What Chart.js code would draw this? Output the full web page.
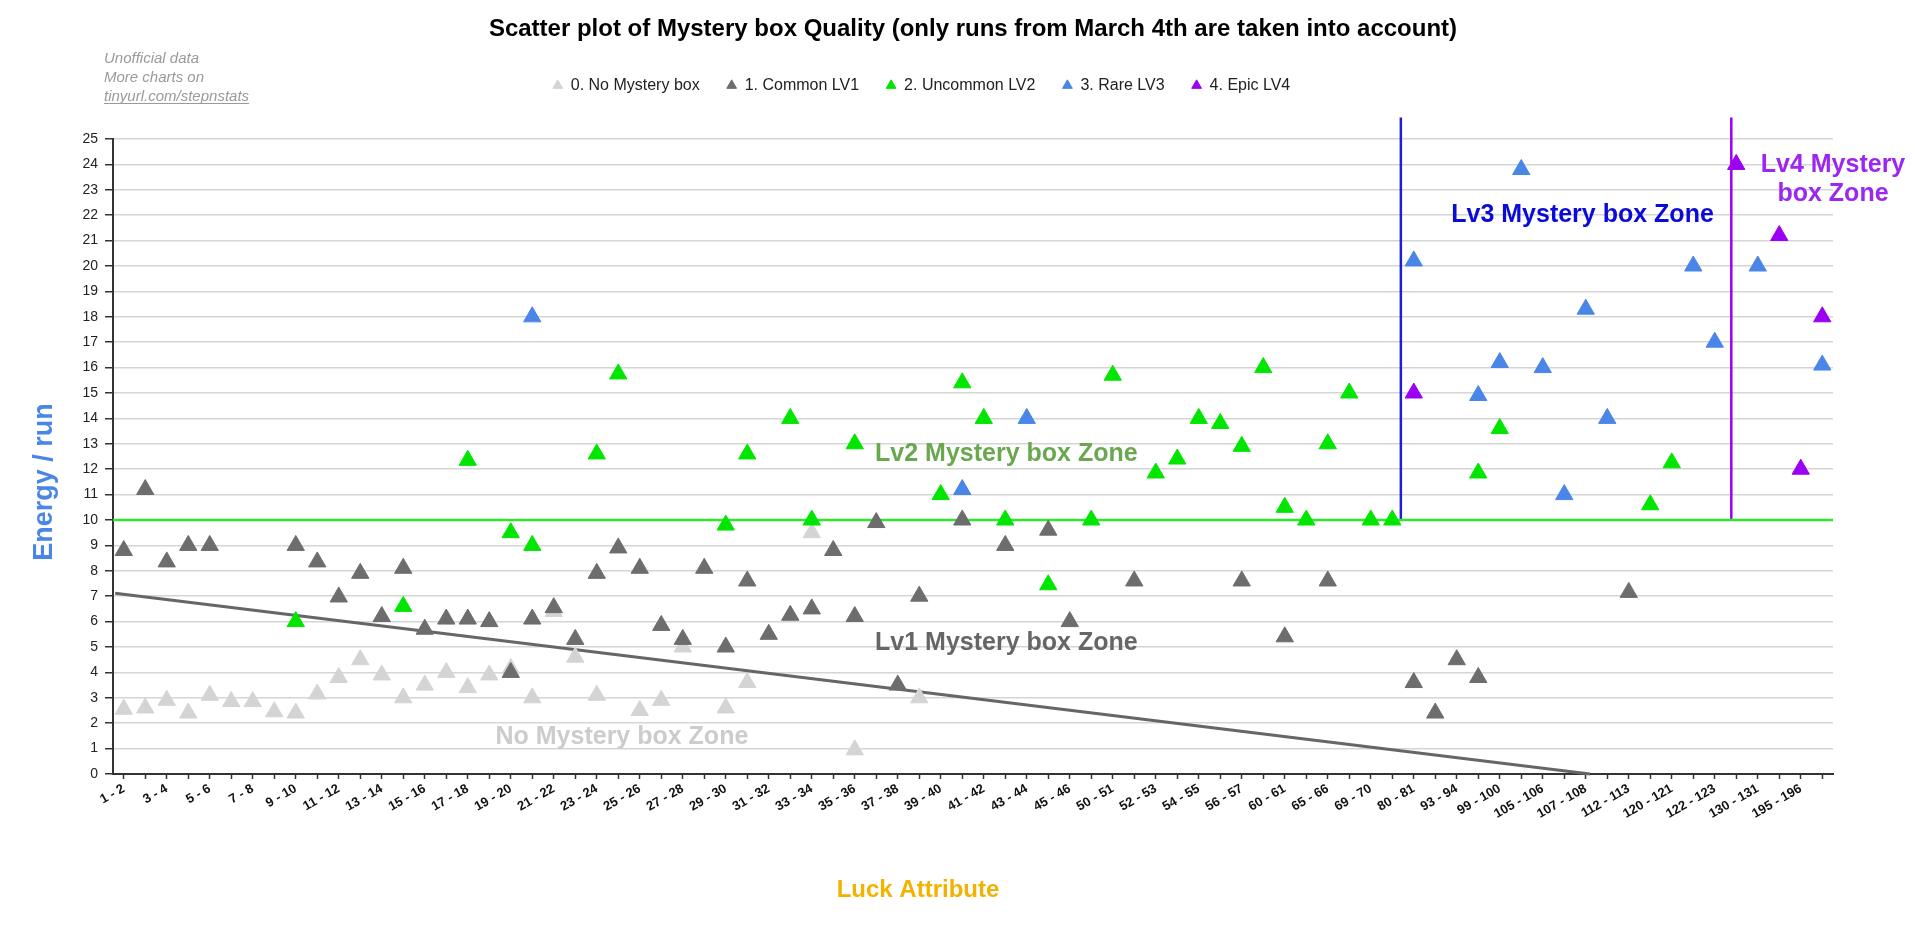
<!DOCTYPE html>
<html>
<head>
<meta charset="utf-8">
<title>Mystery box quality</title>
<script src="https://cdn.jsdelivr.net/npm/chart.js@4.4.1/dist/chart.umd.min.js"></script>
<style>
  html, body { margin: 0; padding: 0; background: #fff; }
  canvas { display: block; }
</style>
</head>
<body>
<canvas id="chart" width="1915" height="938"></canvas>
<script>
const categories = [
    '1 - 2', '2 - 3', '3 - 4', '4 - 5', '5 - 6', '6 - 7', '7 - 8', '8 - 9', '9 - 10', '10 - 11',
    '11 - 12', '12 - 13', '13 - 14', '14 - 15', '15 - 16', '16 - 17', '17 - 18', '18 - 19', '19 - 20', '20 - 21',
    '21 - 22', '22 - 23', '23 - 24', '24 - 25', '25 - 26', '26 - 27', '27 - 28', '28 - 29', '29 - 30', '30 - 31',
    '31 - 32', '32 - 33', '33 - 34', '34 - 35', '35 - 36', '36 - 37', '37 - 38', '38 - 39', '39 - 40', '40 - 41',
    '41 - 42', '42 - 43', '43 - 44', '44 - 45', '45 - 46', '48 - 49', '50 - 51', '51 - 52', '52 - 53', '53 - 54',
    '54 - 55', '55 - 56', '56 - 57', '58 - 59', '60 - 61', '62 - 63', '65 - 66', '67 - 68', '69 - 70', '74 - 75',
    '80 - 81', '87 - 88', '93 - 94', '96 - 97', '99 - 100', '102 - 103', '105 - 106', '106 - 107', '107 - 108', '110 - 111',
    '112 - 113', '116 - 117', '120 - 121', '121 - 122', '122 - 123', '126 - 127', '130 - 131', '150 - 151', '195 - 196', '200 - 201'
];

// [category index, energy per run]
const noBoxPts = [
    [0, 2.55], [1, 2.6], [2, 2.9], [3, 2.4], [4, 3.1], [5, 2.85], [6, 2.85], [7, 2.45], [8, 2.4], [9, 3.15],
    [10, 3.8], [11, 4.5], [12, 3.9], [13, 3.0], [14, 3.5], [15, 4.0], [16, 3.4], [17, 3.9], [18, 4.15], [19, 3.0],
    [20, 6.4], [21, 4.6], [22, 3.1], [24, 2.5], [25, 2.9], [26, 5.0], [28, 2.6], [29, 3.6], [32, 9.5], [34, 0.95],
    [37, 3.0]
];
const commonPts = [
    [0, 8.8], [1, 11.2], [2, 8.35], [3, 9.0], [4, 9.0], [8, 9.0], [9, 8.35], [10, 6.97], [11, 7.9], [12, 6.2],
    [13, 8.1], [14, 5.7], [15, 6.1], [16, 6.1], [17, 6.0], [18, 4.0], [19, 6.1], [20, 6.55], [21, 5.3], [22, 7.9],
    [23, 8.9], [24, 8.1], [25, 5.85], [26, 5.3], [27, 8.1], [28, 5.0], [29, 7.6], [30, 5.5], [31, 6.25], [32, 6.5],
    [33, 8.8], [34, 6.2], [35, 9.9], [36, 3.5], [37, 7.0], [39, 10.0], [41, 9.0], [43, 9.6], [44, 6.0], [47, 7.6],
    [52, 7.6], [54, 5.4], [56, 7.6], [60, 3.6], [61, 2.4], [62, 4.5], [63, 3.8], [70, 7.15]
];
const uncommonPts = [
    [8, 6.0], [13, 6.6], [16, 12.35], [18, 9.5], [19, 9.0], [22, 12.6], [23, 15.75], [28, 9.8], [29, 12.6], [31, 14.0],
    [32, 10.0], [34, 13.0], [38, 11.0], [39, 15.4], [40, 14.0], [41, 10.0], [43, 7.45], [45, 10.0], [46, 15.7], [48, 11.85],
    [49, 12.4], [50, 14.0], [51, 13.8], [52, 12.9], [53, 16.0], [54, 10.5], [55, 10.0], [56, 13.0], [57, 15.0], [58, 10.0],
    [59, 10.0], [63, 11.85], [64, 13.6], [71, 10.6], [72, 12.25]
];
const rarePts = [
    [19, 18.0], [39, 11.2], [42, 14.0], [60, 20.2], [63, 14.9], [64, 16.2], [65, 23.8], [66, 16.0], [67, 11.0], [68, 18.3],
    [69, 14.0], [73, 20.0], [74, 17.0], [76, 20.0], [79, 16.1]
];
const epicPts = [[60, 15.0], [75, 24.0], [77, 21.2], [78, 12.0], [79, 18.0]];

// guide lines, x in category units
const lv2Line = [[-0.5, 10], [79.5, 10]];
const lv3Line = [[59.4, 10], [59.4, 25.85]];
const lv4Line = [[74.77, 10], [74.77, 25.85]];
const trendLine = [[-0.4, 7.12], [68.2, 0]];

const zoneLabels = [
    { lines: ['No Mystery box Zone'], x: 23.17, y: [1.18], color: '#cccccc' },
    { lines: ['Lv1 Mystery box Zone'], x: 41.05, y: [4.88], color: '#666666' },
    { lines: ['Lv2 Mystery box Zone'], x: 41.05, y: [12.32], color: '#6aa84f' },
    { lines: ['Lv3 Mystery box Zone'], x: 67.85, y: [21.73], color: '#0b0bd9' },
    { lines: ['Lv4 Mystery', 'box Zone'], x: 79.5, y: [23.72, 22.56], color: '#9c27f0' }
];
const noteLines = ['Unofficial data', 'More charts on', 'tinyurl.com/stepnstats'];

const FONT = "'Liberation Sans', Arial, sans-serif";
Chart.defaults.font.family = FONT;
Chart.defaults.color = '#222';

const toPoints = pts => pts.map(([i, v]) => ({ x: categories[i], y: v }));
const toLine = pts => pts.map(([x, y]) => ({ x, y }));

const scatterSet = (label, pts, color, order) => ({
    label,
    data: toPoints(pts),
    order,
    pointStyle: 'triangle',
    pointRadius: 10,
    pointHoverRadius: 10,
    backgroundColor: color,
    borderColor: color,
    borderWidth: 1
});

const lineSet = (pts, color, width) => ({
    type: 'line',
    data: toLine(pts),
    xAxisID: 'xl',
    order: 10,
    borderColor: color,
    borderWidth: width,
    pointRadius: 0,
    fill: false,
    clip: false
});

const zoneText = {
    id: 'zoneText',
    afterDraw(chart) {
        const { ctx } = chart;
        const xs = chart.scales.xl, ys = chart.scales.y;
        ctx.save();
        ctx.font = `bold 25px ${FONT}`;
        ctx.textAlign = 'center';
        ctx.textBaseline = 'alphabetic';
        zoneLabels.forEach(z => {
            ctx.fillStyle = z.color;
            z.lines.forEach((t, k) => ctx.fillText(t, xs.getPixelForValue(z.x), ys.getPixelForValue(z.y[k])));
        });

        // note in the top left corner
        ctx.font = `italic 15px ${FONT}`;
        ctx.fillStyle = '#9a9a9a';
        ctx.textAlign = 'left';
        noteLines.forEach((t, k) => ctx.fillText(t, 104, 63 + k * 19));
        const w = ctx.measureText(noteLines[2]).width;
        ctx.fillRect(104, 63 + 2 * 19 + 2, w, 1);

        // axis titles
        ctx.textAlign = 'center';
        ctx.textBaseline = 'middle';
        ctx.font = `bold 24px ${FONT}`;
        ctx.fillStyle = '#f1b300';
        ctx.fillText('Luck Attribute', 918, 890);
        ctx.translate(45, 482);
        ctx.rotate(-Math.PI / 2);
        ctx.font = `bold 27px ${FONT}`;
        ctx.fillStyle = '#4a86e8';
        ctx.fillText('Energy / run', 0, 0);
        ctx.restore();
    }
};

new Chart(document.getElementById('chart'), {
    type: 'scatter',
    data: {
        datasets: [
            scatterSet('0. No Mystery box', noBoxPts, '#d4d4d4', 5),
            scatterSet('1. Common LV1', commonPts, '#6d6d6d', 4),
            scatterSet('2. Uncommon LV2', uncommonPts, '#00e600', 3),
            scatterSet('3. Rare LV3', rarePts, '#4a86e8', 2),
            scatterSet('4. Epic LV4', epicPts, '#9b00f5', 1),
            lineSet(lv2Line, '#2ee82e', 2.5),
            lineSet(lv3Line, '#1f1fd2', 2.5),
            lineSet(lv4Line, '#9b00f5', 2.5),
            lineSet(trendLine, '#666666', 3)
        ]
    },
    options: {
        responsive: false,
        animation: false,
        devicePixelRatio: 1,
        layout: { padding: { left: 10, right: 82, top: 0, bottom: 0 } },
        scales: {
            x: {
                type: 'category',
                labels: categories,
                offset: true,
                grid: { display: true, drawOnChartArea: false, drawTicks: true, tickLength: 5, tickColor: '#333', tickWidth: 1.5 },
                border: { display: true, color: '#333', width: 2 },
                ticks: {
                    autoSkip: false,
                    minRotation: 30,
                    maxRotation: 30,
                    padding: 2,
                    color: '#111',
                    font: { size: 13, weight: 'bold' },
                    callback(val, idx) {
                        return idx % 2 === 0 ? this.getLabelForValue(val) : '';
                    }
                },
                afterFit(s) { s.height = 164; }
            },
            xl: { type: 'linear', display: false, min: -0.5, max: 79.5 },
            y: {
                min: 0,
                max: 25,
                ticks: { stepSize: 1, padding: 7, color: '#222', font: { size: 14 } },
                grid: { color: '#d5d5d5', lineWidth: 1.5, tickLength: 8, tickColor: '#333', tickWidth: 1.5 },
                border: { color: '#333', width: 2 },
                afterFit(s) { s.width = 103; }
            }
        },
        plugins: {
            title: {
                display: true,
                text: 'Scatter plot of Mystery box Quality (only runs from March 4th are taken into account)',
                fullSize: false,
                color: '#000',
                font: { size: 24, weight: 'bold' },
                padding: { top: 15.1, bottom: 6.6 }
            },
            subtitle: {
                display: true,
                text: ' ',
                weight: 100,
                fullSize: false,
                font: { size: 1, lineHeight: 1 },
                padding: { top: 34.5, bottom: 0 }
            },
            legend: {
                position: 'top',
                labels: {
                    usePointStyle: true,
                    boxWidth: 10,
                    boxHeight: 8,
                    padding: 27,
                    color: '#222',
                    font: { size: 16 },
                    filter: item => item.datasetIndex < 5,
                    sort: (a, b) => a.datasetIndex - b.datasetIndex
                }
            },
            tooltip: { enabled: false }
        }
    },
    plugins: [zoneText]
});
</script>
</body>
</html>
